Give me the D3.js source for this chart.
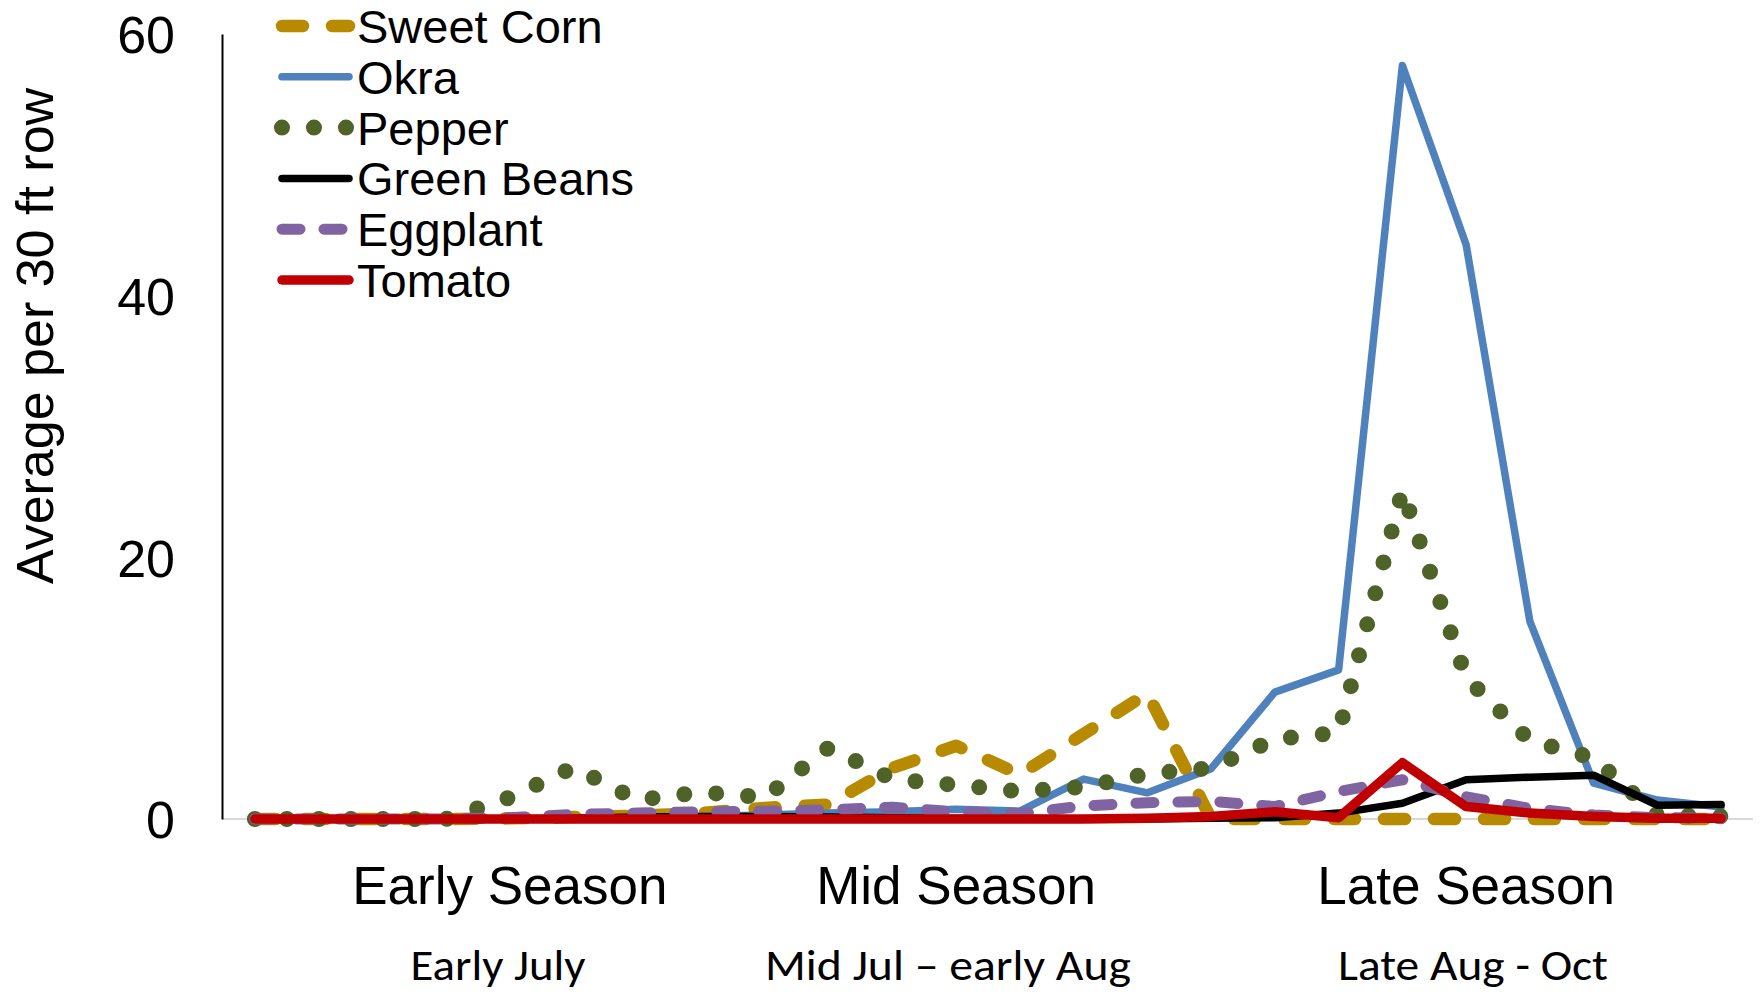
<!DOCTYPE html>
<html>
<head>
<meta charset="utf-8">
<script src="https://cdn.jsdelivr.net/npm/d3@7/dist/d3.min.js"></script>
<style>
  html, body { margin: 0; padding: 0; background: #fff; }
  svg { display: block; }
</style>
</head>
<body>
<svg id="chart" width="1760" height="994"></svg>
<script>
// Sampling periods (24 weekly counts, early July through October)
const periods = [1, 2, 3, 4, 5, 6, 7, 8, 9, 10, 11, 12, 13, 14, 15, 16, 17, 18, 19, 20, 21, 22, 23, 24];

// Average count per 30 ft row, by crop
const sweetCorn  = [0, 0, 0, 0, 0.05, 0.15, 0.25, 0.45, 0.85, 1.1, 3.9, 5.6, 3.4, 6.5, 9.6, 0, 0, 0, 0, 0, 0, 0, 0, 0];
const okra       = [0, 0, 0, 0, 0, 0.05, 0.1, 0.2, 0.3, 0.45, 0.55, 0.75, 0.6, 3.05, 2.0, 3.85, 9.7, 11.4, 57.6, 43.9, 15.1, 2.75, 1.45, 0.92];
const pepper     = [0, 0, 0, 0, 1.65, 3.95, 1.45, 2.05, 1.65, 5.45, 3.05, 2.6, 2.1, 2.45, 3.45, 3.9, 6.1, 6.6, 25.1, 10.8, 6.0, 4.65, 0.3, 0.2];
const greenBeans = [0, 0, 0, 0, 0, 0.05, 0.15, 0.2, 0.2, 0.15, 0.1, 0.05, 0.05, 0, 0, 0.05, 0.1, 0.45, 1.2, 3.0, 3.2, 3.35, 1.05, 1.1];
const eggplant   = [0, 0, 0, 0, 0.1, 0.35, 0.45, 0.55, 0.6, 0.7, 0.9, 0.55, 0.4, 1.0, 1.25, 1.35, 0.95, 2.1, 3.0, 1.7, 0.8, 0.3, 0.1, 0.05];
const tomato     = [0, 0, 0, 0, 0, 0, 0, 0, 0, 0, 0, 0, 0, 0, 0.05, 0.2, 0.55, 0.1, 4.3, 0.95, 0.45, 0.2, 0.05, 0.05];

const seriesNames = ["Sweet Corn", "Okra", "Pepper", "Green Beans", "Eggplant", "Tomato"];
const seriesValues = [sweetCorn, okra, pepper, greenBeans, eggplant, tomato];

const yTicks = [0, 20, 40, 60];
const seasonLabels = ["Early Season", "Mid Season", "Late Season"];
const seasonPeriods = [5, 12, 20];
const seasonRanges = ["Early July", "Mid Jul \u2013 early Aug", "Late Aug - Oct"];

// Line styling per series
const styles = [
  { color: "#b78a00", width: 12.5, dash: "21,29" },
  { color: "#4f81bd", width: 7.5,  dash: null },
  { color: "#4f6228", width: 16,   dash: "0,32" },
  { color: "#000000", width: 7.5,  dash: null },
  { color: "#8064a2", width: 11,   dash: "18,24" },
  { color: "#c00000", width: 9.5,  dash: null }
];

const svg = d3.select("#chart");
const plot = { left: 222, right: 1753, top: 34, bottom: 819 };
const FONT = "'Liberation Sans', Arial, sans-serif";

const x = d3.scalePoint().domain(periods).range([plot.left + 1, plot.right]).padding(0.5);
const y = d3.scaleLinear().domain([0, 60]).range([plot.bottom, plot.top]);

// Horizontal baseline
svg.append("line")
  .attr("x1", plot.left).attr("x2", plot.right)
  .attr("y1", y(0)).attr("y2", y(0))
  .attr("stroke", "#d9d9d9").attr("stroke-width", 2);

// Vertical value axis
const yAxis = d3.axisLeft(y).tickValues(yTicks).tickSize(0).tickPadding(47).tickFormat(d3.format("d"));
const yg = svg.append("g").attr("transform", `translate(${plot.left},0)`).call(yAxis);
yg.select(".domain").attr("stroke", "#000").attr("stroke-width", 2);
yg.selectAll("text")
  .attr("font-family", FONT).attr("font-size", 52).attr("fill", "#000")
  .attr("dy", "0.36em");

svg.append("text")
  .attr("transform", "translate(53,336) rotate(-90)")
  .attr("text-anchor", "middle")
  .attr("font-family", FONT).attr("font-size", 52)
  .text("Average per 30 ft row");

// Series lines
const line = d3.line().x((d, i) => x(periods[i])).y(d => y(d));
seriesValues.forEach((vals, k) => {
  const s = styles[k];
  svg.append("path")
    .datum(vals)
    .attr("d", line)
    .attr("fill", "none")
    .attr("stroke", s.color)
    .attr("stroke-width", s.width)
    .attr("stroke-linecap", "round")
    .attr("stroke-linejoin", "round")
    .attr("stroke-dasharray", s.dash);
});

// Legend
const legend = svg.append("g");
seriesNames.forEach((name, k) => {
  const s = styles[k];
  const ly = 26 + k * 50.8;
  legend.append("line")
    .attr("x1", 282).attr("x2", k === 2 ? 346.5 : 349)
    .attr("y1", ly).attr("y2", ly)
    .attr("stroke", s.color).attr("stroke-width", s.width)
    .attr("stroke-linecap", "round")
    .attr("stroke-dasharray", s.dash);
  legend.append("text")
    .attr("x", 357).attr("y", ly).attr("dy", "0.36em")
    .attr("font-family", FONT).attr("font-size", 47)
    .text(name);
});

// Season labels beneath the axis
seasonLabels.forEach((lab, k) => {
  svg.append("text")
    .attr("x", x(seasonPeriods[k])).attr("y", 904)
    .attr("text-anchor", "middle")
    .attr("font-family", FONT).attr("font-size", 53)
    .text(lab);
});

const rangeCenters = [498, 948, 1473];
const rangeWidths = [175, 366, 270];
seasonRanges.forEach((lab, k) => {
  svg.append("text")
    .attr("x", rangeCenters[k] - rangeWidths[k] / 2).attr("y", 980)
    .attr("font-family", "Carlito, Lato, sans-serif").attr("font-size", 44)
    .attr("textLength", rangeWidths[k]).attr("lengthAdjust", "spacingAndGlyphs")
    .text(lab);
});
</script>
</body>
</html>
